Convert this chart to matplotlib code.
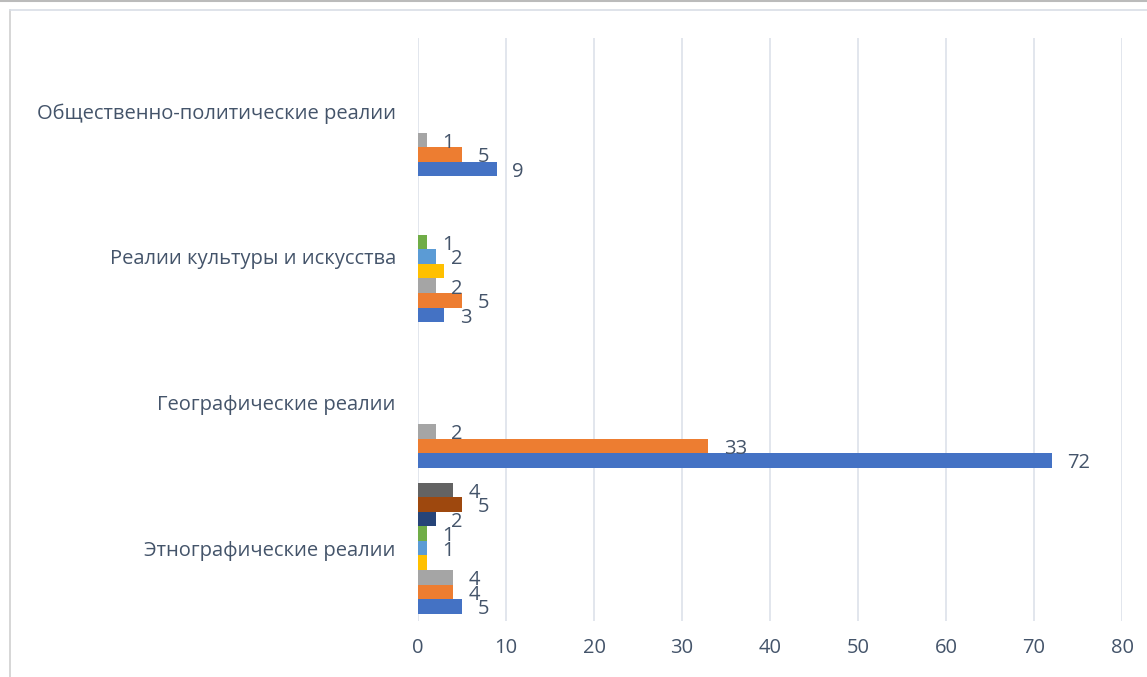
import matplotlib
matplotlib.use('Agg')
import matplotlib.pyplot as plt
import numpy as np

CATEGORIES = ['Этнографические реалии', 'Географические реалии',
              'Реалии культуры и искусства', 'Общественно-политические реалии']

# one list per series, values given bottom-to-top category order
S1 = [5, 72, 3, 9]
S2 = [4, 33, 5, 5]
S3 = [4, 2, 2, 1]
S4 = [1, 0, 3, 0]
S5 = [1, 0, 2, 0]
S6 = [1, 0, 1, 0]
S7 = [2, 0, 0, 0]
S8 = [5, 0, 0, 0]
S9 = [4, 0, 0, 0]

SERIES = [S1, S2, S3, S4, S5, S6, S7, S8, S9]
COLORS = ['#4472C4', '#ED7D31', '#A5A5A5', '#FFC000', '#5B9BD5',
          '#70AD47', '#264478', '#9E480E', '#636363']
# the yellow series shows no data labels in the original
LABELLED = [True, True, True, False, True, True, True, True, True]

XTICKS = [0, 10, 20, 30, 40, 50, 60, 70, 80]

TEXT = '#44546A'
GRID = '#DDE2EA'

plt.rcParams['font.family'] = ['Open Sans', 'DejaVu Sans']

fig = plt.figure(figsize=(11.47, 6.77), dpi=100)
ax = fig.add_axes([418/1147, 1 - 621/677, (1122 - 418)/1147, (621 - 38)/677])

y = np.arange(len(CATEGORIES))
h = 0.1
for i, (vals, col) in enumerate(zip(SERIES, COLORS)):
    pos = y - 0.4 + i * h
    ax.barh(pos, vals, height=h, color=col, zorder=3)
    if not LABELLED[i]:
        continue
    for p, v in zip(pos, vals):
        if v == 0:
            continue
        ax.annotate(str(v), (v, p), xytext=(11, -2), textcoords='offset points',
                    ha='left', va='center', fontsize=14.5, color=TEXT)

ax.set_xlim(0, 80)
ax.set_ylim(-0.5, 3.5)
ax.set_xticks(XTICKS)
ax.set_yticks(y)
ax.set_yticklabels(CATEGORIES)
ax.tick_params(length=0, labelsize=14.5, colors=TEXT)
ax.tick_params(axis='x', pad=12)
ax.tick_params(axis='y', pad=16)
ax.grid(axis='x', color=GRID, linewidth=1.2, zorder=0)
for s in ax.spines.values():
    s.set_visible(False)

# chart-area frame (only top and left edges show in the crop)
fig.add_artist(plt.Line2D([10/1147, 10/1147], [1 - 10/677, 0], color='#D0D0D0', lw=1.2))
fig.add_artist(plt.Line2D([10/1147, 1], [1 - 10/677, 1 - 10/677], color='#D9DEE6', lw=1.2))
fig.add_artist(plt.Line2D([0, 1], [1 - 1/677, 1 - 1/677], color='#BBBBBB', lw=1.5))

fig.savefig('out.png', dpi=100)
